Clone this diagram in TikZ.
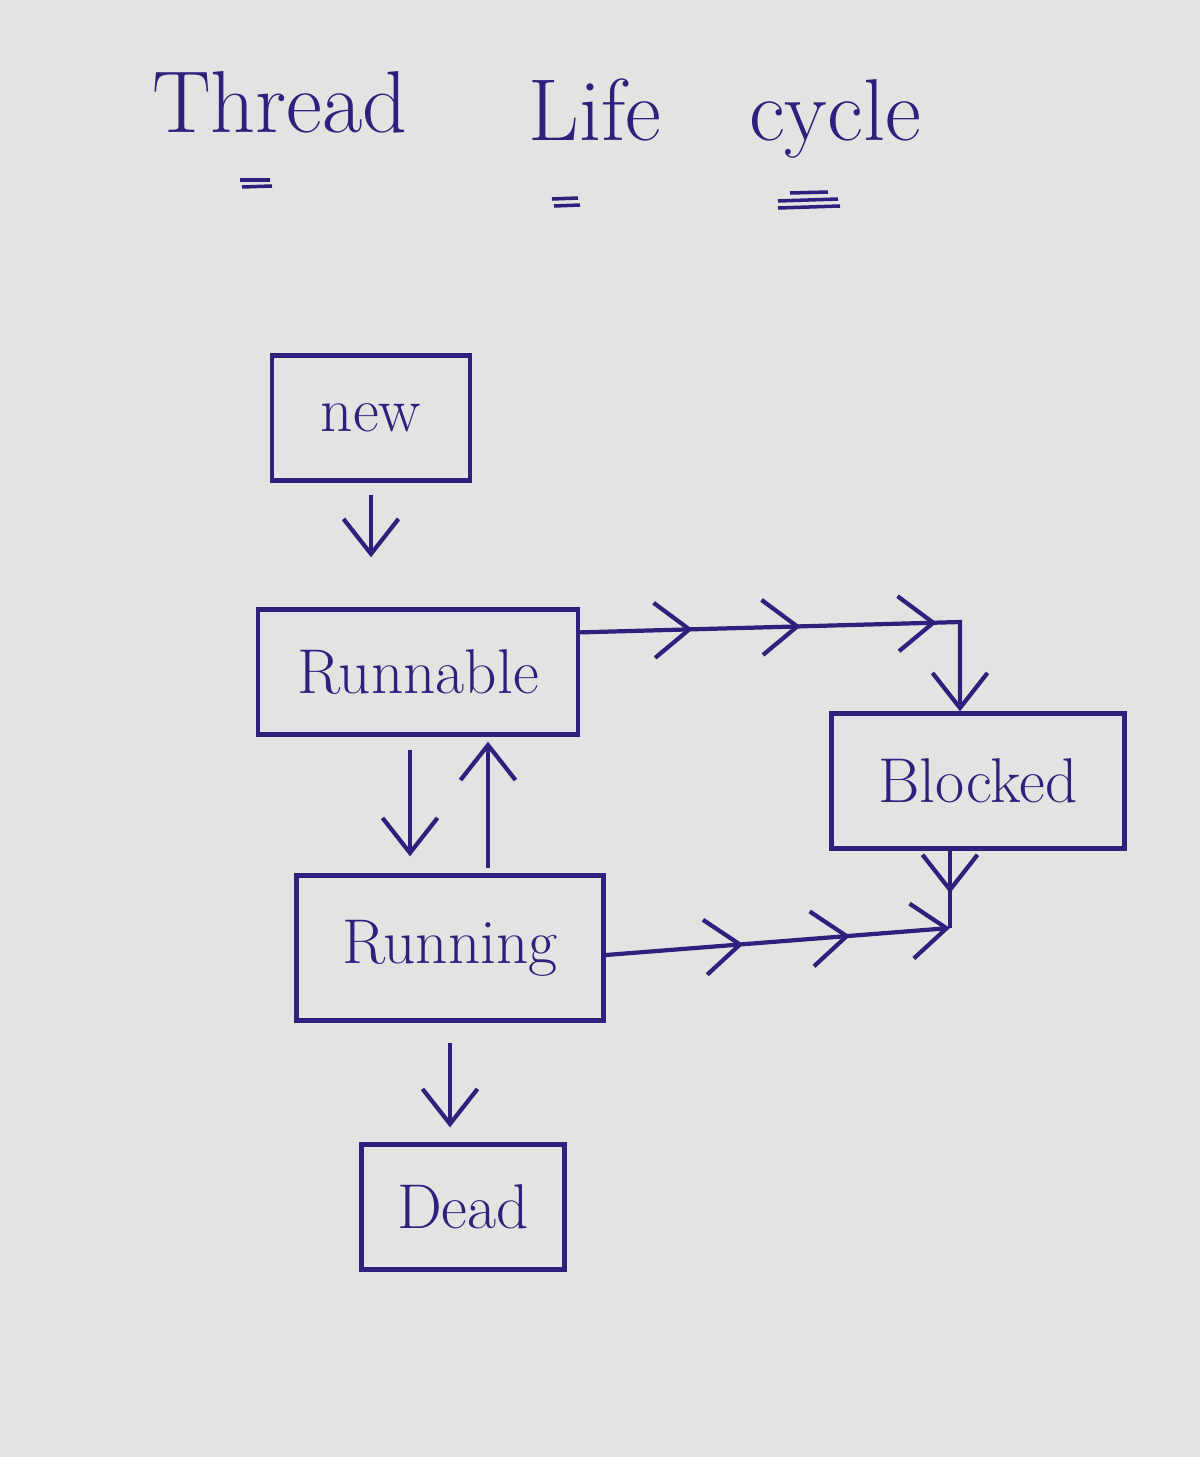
\documentclass[tikz,border=0pt]{standalone}
\usepackage{xcolor}
\usetikzlibrary{arrows.meta,decorations.markings}

\definecolor{ink}{RGB}{48,32,125}
\definecolor{paper}{RGB}{228,227,225}

\begin{document}
\begin{tikzpicture}[x=0.01cm, y=-0.01cm,
    state/.style={draw=ink, line width=1.2pt, text=ink, inner sep=0pt, font=\fontsize{18}{20}\selectfont},
    title/.style={text=ink, anchor=base, font=\fontsize{25}{28}\selectfont},
    flow/.style={draw=ink, line width=1.2pt, -{Straight Barb[length=3.5mm,width=5.5mm]}},
    chevrons/.style={postaction={decorate, decoration={markings, mark=at position #1 with {\arrow[ink, line width=1.2pt]{Straight Barb[length=3.5mm,width=5.5mm]}}}}}]
		\fill[paper] (0,0) rectangle (1200,1457);
		\useasboundingbox (0,0) rectangle (1200,1457);
		% heading
		\node[title] (thread) at (280,132) {Thread};
		\node[title] (life) at (595,140) {Life};
		\node[title] (cycle) at (835,140) {cycle};
		\draw[ink, line width=1pt] (240,180) -- (270,180) (242,187) -- (272,186);
		\draw[ink, line width=1pt] (552,199) -- (578,198) (554,206) -- (580,205);
		\draw[ink, line width=1pt] (790,193) -- (828,192) (778,201) -- (838,199) (778,208) -- (840,206);
		% states
		\node[state, minimum width=1.98cm, minimum height=1.25cm] (new) at (371,418) {new};
		\node[state, minimum width=3.2cm, minimum height=1.25cm] (runnable) at (418,672) {Runnable};
		\node[state, minimum width=2.93cm, minimum height=1.35cm] (blocked) at (978,781) {Blocked};
		\node[state, minimum width=3.07cm, minimum height=1.45cm] (running) at (450,948) {Running};
		\node[state, minimum width=2.03cm, minimum height=1.25cm] (dead) at (463,1207) {Dead};
		% transitions
		\coordinate (turn) at (960,622);
		\coordinate (join) at (950,928);
		\draw[flow, shorten <=0.12cm, shorten >=0.5cm] (new.south) -- (new.south |- runnable.north);
		\draw[flow, chevrons=0.24, chevrons=0.47, chevrons=0.76] ([yshift=-0.25cm]runnable.north east) -- (turn) -- (turn |- blocked.north);
		\draw[flow, shorten <=0.13cm, shorten >=0.17cm] (runnable.south -| 410,0) -- (running.north -| 410,0);
		\draw[flow, shorten <=0.05cm, shorten >=0.05cm] (running.north -| 488,0) -- (runnable.south -| 488,0);
		\draw[flow, chevrons=0.4, chevrons=0.71] ([yshift=-0.07cm]running.east) -- (join);
		\draw[ink, line width=1.2pt, chevrons=0.55] (blocked.south -| join) -- (join);
		\draw[flow, shorten <=0.2cm, shorten >=0.15cm] (running.south -| 450,0) -- (dead.north -| 450,0);
	\end{tikzpicture}
\end{document}
